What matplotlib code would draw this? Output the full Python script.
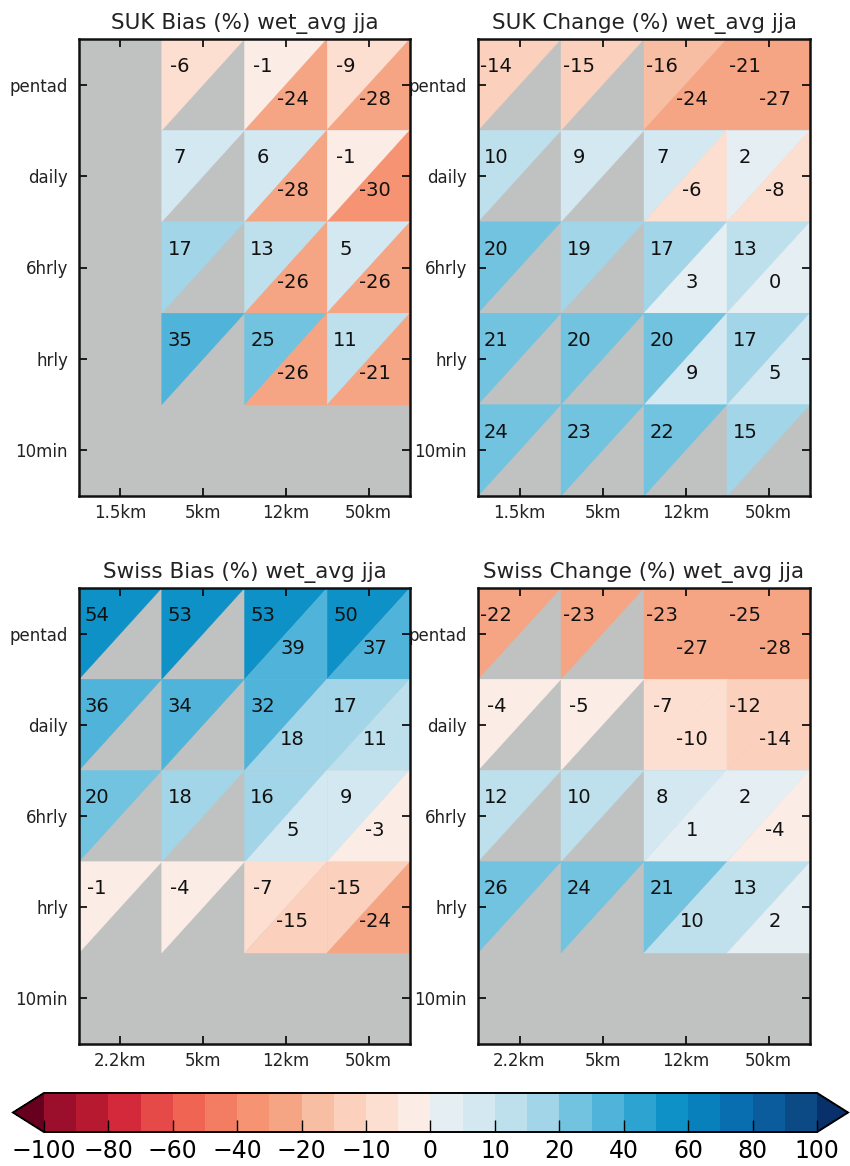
import numpy as np
import matplotlib
matplotlib.use("Agg")
import matplotlib.pyplot as plt
from matplotlib.collections import PolyCollection
from matplotlib.colors import BoundaryNorm, ListedColormap
import matplotlib.cm as cm

nan = np.nan

rows = ["pentad", "daily", "6hrly", "hrly", "10min"]
suk_cols = ["1.5km", "5km", "12km", "50km"]
swiss_cols = ["2.2km", "5km", "12km", "50km"]

levels = [-100, -90, -80, -70, -60, -50, -40, -30, -20, -15, -10, -5, 0,
          5, 10, 15, 20, 30, 40, 50, 60, 70, 80, 90, 100]
cbar_ticks = [-100, -80, -60, -40, -20, -10, 0, 10, 20, 40, 60, 80, 100]

# upper-left triangle values, lower-right triangle values (rows x cols)
suk_bias_upper = [[nan, -6, -1, -9],
                  [nan, 7, 6, -1],
                  [nan, 17, 13, 5],
                  [nan, 35, 25, 11],
                  [nan, nan, nan, nan]]
suk_bias_lower = [[nan, nan, -24, -28],
                  [nan, nan, -28, -30.4],
                  [nan, nan, -26, -26],
                  [nan, nan, -26, -21],
                  [nan, nan, nan, nan]]

suk_change_upper = [[-14, -15, -16, -21],
                    [10, 9, 7, 2],
                    [20, 19, 17, 13],
                    [21, 20, 20, 17],
                    [24, 23, 22, 15]]
suk_change_lower = [[nan, nan, -24, -27],
                    [nan, nan, -6, -8],
                    [nan, nan, 3, 0],
                    [nan, nan, 9, 5],
                    [nan, nan, nan, nan]]

swiss_bias_upper = [[54, 53, 53, 50],
                    [36, 34, 32, 17],
                    [20, 18, 16, 9],
                    [-1, -4, -7, -15],
                    [nan, nan, nan, nan]]
swiss_bias_lower = [[nan, nan, 39, 37],
                    [nan, nan, 18, 11],
                    [nan, nan, 5, -3],
                    [nan, nan, -15, -24],
                    [nan, nan, nan, nan]]

swiss_change_upper = [[-22, -23, -23, -25],
                      [-4, -5, -7, -12],
                      [12, 10, 8, 2],
                      [26, 24, 21, 13],
                      [nan, nan, nan, nan]]
swiss_change_lower = [[nan, nan, -27, -28],
                      [nan, nan, -10, -14],
                      [nan, nan, 1, -4],
                      [nan, nan, 10, 2],
                      [nan, nan, nan, nan]]

panels = [
    ("SUK Bias (%) wet_avg jja", suk_cols, suk_bias_upper, suk_bias_lower),
    ("SUK Change (%) wet_avg jja", suk_cols, suk_change_upper, suk_change_lower),
    ("Swiss Bias (%) wet_avg jja", swiss_cols, swiss_bias_upper, swiss_bias_lower),
    ("Swiss Change (%) wet_avg jja", swiss_cols, swiss_change_upper, swiss_change_lower),
]

# discrete colours
bin_colors = ['#9b0f2c', '#b71a30', '#d3293a', '#e54a48', '#ef6452', '#f37d62',
              '#f59373', '#f6a584', '#f8bea3', '#fbd0bc', '#fcdfd0', '#fbede6',
              '#e5eef2', '#d3e8f0', '#bde0ec', '#a2d5e8', '#72c3e0', '#50b4da',
              '#2ca3d0', '#0e91c6', '#0880bc', '#086eaf', '#0a5c9c', '#0b4a84']
cmap = ListedColormap(bin_colors)
cmap.set_under('#67001f')
cmap.set_over('#08306b')
norm = BoundaryNorm(levels, ncolors=len(bin_colors))
GRAY = "#c0c2c2"

W, H = 850, 1166
fig = plt.figure(figsize=(W / 100, H / 100), dpi=100)

boxes = [
    (79, 39, 410, 496),
    (478, 39, 810, 496),
    (79, 588, 410, 1044),
    (478, 588, 810, 1044),
]

axes = []
for (title, cols, up, lo), (x0, y0, x1, y1) in zip(panels, boxes):
    ax = fig.add_axes([x0 / W, 1 - y1 / H, (x1 - x0) / W, (y1 - y0) / H])
    axes.append(ax)
    ax.set_facecolor(GRAY)
    up = np.array(up, dtype=float)
    lo = np.array(lo, dtype=float)
    verts, vals = [], []
    for r in range(len(rows)):
        for c in range(len(cols)):
            L, R, T, B = c - 0.5, c + 0.5, r - 0.5, r + 0.5
            if not np.isnan(up[r, c]):
                verts.append([(L, T), (R, T), (L, B)])
                vals.append(up[r, c])
            if not np.isnan(lo[r, c]):
                verts.append([(R, T), (R, B), (L, B)])
                vals.append(lo[r, c])
    pc = PolyCollection(verts, array=np.array(vals), cmap=cmap, norm=norm,
                        edgecolors="face", linewidths=0.3)
    ax.add_collection(pc)
    for r in range(len(rows)):
        for c in range(len(cols)):
            if not np.isnan(up[r, c]):
                ax.text(c - 0.5 + 0.22, r - 0.5 + 0.30, "%d" % round(up[r, c]),
                        ha="center", va="center", fontsize=14, color="#111111")
            if not np.isnan(lo[r, c]):
                ax.text(c - 0.5 + 0.58, r - 0.5 + 0.66, "%d" % round(lo[r, c]),
                        ha="center", va="center", fontsize=14, color="#111111")
    ax.set_xlim(-0.5, len(cols) - 0.5)
    ax.set_ylim(len(rows) - 0.5, -0.5)
    ax.set_xticks(range(len(cols)))
    ax.set_xticklabels(cols, fontsize=12)
    ax.set_yticks(range(len(rows)))
    ax.set_yticklabels(rows, fontsize=12)
    ax.tick_params(direction="in", length=6, width=1.2, top=True, right=True,
                   colors="black", labelcolor="#222222")
    ax.tick_params(axis="y", pad=8)
    ax.tick_params(axis="x", pad=6)
    for s in ax.spines.values():
        s.set_linewidth(1.8)
        s.set_color("#111111")
    ax.set_title(title, fontsize=15.5, color="#222222", pad=7)

axes[0].set_zorder(2)
axes[2].set_zorder(2)

cax = fig.add_axes([13 / W, 1 - 1132 / H, 835 / W, 39 / H])
sm = cm.ScalarMappable(norm=norm, cmap=cmap)
cb = fig.colorbar(sm, cax=cax, orientation="horizontal", extend="both",
                  extendfrac=0.04, spacing="uniform", ticks=cbar_ticks)
cb.minorticks_off()
cb.ax.tick_params(labelsize=17, direction="in", length=9, width=1.0, pad=5)
cb.outline.set_linewidth(1.4)

fig.savefig("out.png", dpi=100)
